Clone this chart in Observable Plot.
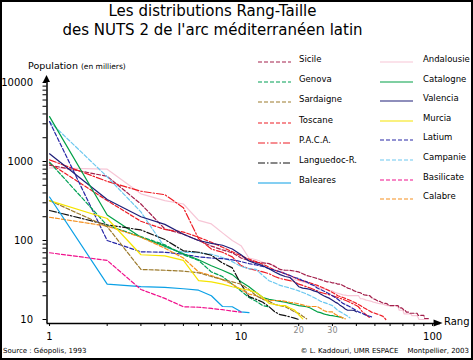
<!DOCTYPE html>
<html><head><meta charset="utf-8">
<script src="https://cdn.jsdelivr.net/npm/d3@7"></script>
<script src="https://cdn.jsdelivr.net/npm/@observablehq/plot@0.6"></script>
<style>
body{margin:0;background:#fff;}
#wrap{position:relative;width:473px;height:360px;overflow:hidden;font-family:"DejaVu Sans",sans-serif;background:#fff;color:#000;}
#wrap svg.plot{position:absolute;left:0;top:0;}
#border{position:absolute;left:0;top:0;width:473px;height:360px;box-sizing:border-box;border:2px solid #000;pointer-events:none;}
.t{position:absolute;white-space:nowrap;}
#title{left:0;width:425px;top:2px;text-align:center;font-size:15px;line-height:19px;}
.leg{position:absolute;font-size:8.5px;white-space:nowrap;line-height:10px;}
.leg svg{position:absolute;left:0;top:2px;}
.leg span{position:absolute;top:-3px;}
</style></head><body>
<div id="wrap"></div>
<script>
// ---- data ----
const seriesNames = ["Sicile","Genova","Sardaigne","Toscane","P.A.C.A.","Languedoc-R.","Baleares",
  "Andalousie","Catalogne","Valencia","Murcia","Latium","Campanie","Basilicate","Calabre"];
const sicile = [900,650,290,140,120,100,85,76,70,60, 56,53,52,51,47,43,42,42,41,40, 38,36,35,34,33,32,31,30,30,29,
  29,28,28,27,26,25,24.5,24,23,22.5, 22,21.8,21,20.5,20.3,20.1,20,19,18.3,18, 17.5,17,17,16.5,16.2,16,16,15.8,15,15,
  15,15,15,15,15,15,14,14,14,13.6, 13,13,12.4,12.4,12.4,12,12,12,12,12, 12,12,12,11.3,11.3,11.3,11.3,11.3,11.3,11.3,
  10.3,10.3,10.3,10.3,10.3];
const genova = [980,155,112,88,66,56,40,35,28,23,19,17,15,14.5];
const sardaigne = [320,150,43,42,41,39,35,32,30,28,24,20,18,17,15.5,15,14.5,13.5,12.5,12,11,10.2];
const toscane = [950,320,175,138,128,110,95,82,72,64, 58,54,50,46,42,40,38,36,34,32, 31,30,29,28,27,26,25,24,23,22,
  21,20,19.5,19,18.5,18,17.5,17,16.5,16, 15.5,15,14.5,14,13.6,13.2,12.8,12.4,12.2,12, 11.8,11.6,11.4,11.2,11,10.5,10];
const paca = [1050,560,420,380,260,105,78,71,62,48, 44,42,40,38,35,33,32,31,30,28, 27,26,25,24,23,22,21.5,21,20.5,20,
  19.5,19,18.5,18,17.5,17,16.5,16,15.5,15, 14.5,13.5,12.5,12,11.5,11,10.5];
const languedoc = [240,158,136,103,74,71,65,52,45,28,19.5,18,16.5,14.5,12.5,11.5,11.2,10.8,10.4,10];
const baleares = [355,28,26,25.5,24.5,23.5,20,14.6,14.5,12.5,12.2];
const andalousie = [830,800,390,320,290,180,162,125,100,86, 60,57,53,51,48,42,38,34,32,31, 30,29,28,27,26,25,24.5,24,23.3,23,
  22,21.5,21,20.5,20.3,20.1,20.1,20.1,20.1,20.1, 20.1,18.3,18.3,18,17.6,17.4,17.2,17,16.6,16.5, 16.2,16,15.9,15.8,15.6,15.4,15.2,15,15,15,
  15,15,15,15,15,14.4,13.1,13.1,13.1,13.1, 11.8,11.8,11.8,11.8,11.8,11.8,11.8,11.2,11.2,11.2, 11.2,11.2,11.2,10.6,10,10,10,10,10,10,
  10,10,10,10,10];
const catalogne = [3700,210,110,85,68,57,48,42,37,30, 26,22,19,18,17.5,17,16.6,16,15.5,15, 14.8,14.5,14,13.2,12.5,12.2,11.8,11.5,11.3,11.2,
  11,10.9,10.7,10.5];
const valencia = [1250,330,200,160,120,100,92,87,78,66, 55,51,48,44,40,37,35,34,30,26, 25,24.6,24,23,22.4,21,20,19.2,18.5,17.5,
  16.6,16,15,14.4,13.6,13.1,13.1,13.1,13,12.5];
const murcia = [320,190,66,64,56,31,30,28,26,24.5,23.5,22,19,16,15.5,15,15,14,13.2,11.5,10.2];
const latium = [3200,100,72,71,67,62,60,59,57,54, 51,49,47,44,42,40,38,36,34,33, 31,30,28,27,25,24,23,22,21,20,
  19,18,17,16,15.5,15,14.5,14,13.5,13, 12.5,12.2,12,11.6,11.3,11.1,11,10.8];
const campanie = [3200,640,230,82,71,70,67,61,54,47, 44,43,36,31,29,27,26,25,24,23, 22,21,20,19,18,17,16.5,16,15.5,15,
  14,13,12.5,12,11.5,11,10.5];
const basilicate = [70,56,24,18.5,14.5,14.3,13.8,13.3,12.8,12.4];
const calabre = [197,152,110,80,60,40,36,32,28,24, 21,20,18.2,17.4,17.4,17.4,17,16.5,16.2,15.8, 15.3,14.8,14.6,14.6,14.6,13.8,13,12.6,12.5,12.5,
  11.6,11.2,10.8,10.5,10.2];
const seriesValues = [sicile,genova,sardaigne,toscane,paca,languedoc,baleares,
  andalousie,catalogne,valencia,murcia,latium,campanie,basilicate,calabre];
const rankTicks = [1,2,3,4,5,6,7,8,9,10,20,30,40,50,60,70,80,90,100];
const rankLabels = [1,10,100];
const rankLabelsGray = [20,30];
const popTicks = [10,20,30,40,50,60,70,80,90,100,200,300,400,500,600,700,800,900,1000,2000,3000,4000,5000,6000,7000,8000,9000,10000];
const popLabels = [10,100,1000,10000];

// ---- styles ----
const seriesColors = ["#a3204c","#00a055","#9c7a2c","#ee1c25","#ee1c25","#111111","#0aa0e6",
  "#f7c6d6","#00a046","#1e1e78","#f5e400","#2626a6","#6cc8f0","#f0108c","#f5901e"];
const seriesDash = ["4,2","4,2","4,2","4,2","7,2,1.5,2","7,2,1.5,2",null,
  null,null,null,null,"4,2","4,2","4,2","4,2"];
const drawOrder = [7,0,3,4,12,11,9,8,1,5,14,2,10,6,13];

const xDomain = [0.97,110], yDomain = [8.9,10000];
const font = "'DejaVu Sans', sans-serif";

const marks = [];
for (const i of drawOrder) {
  const data = seriesValues[i].map((v,k)=>({rank:k+1, value:v}));
  marks.push(Plot.line(data, {x:"rank", y:"value", stroke:seriesColors[i], strokeWidth:1.2,
    strokeDasharray: seriesDash[i] || undefined}));
}
marks.push(Plot.ruleY([yDomain[0]], {stroke:"#000", strokeWidth:1.5}));
marks.push(Plot.ruleX([xDomain[0]], {stroke:"#000", strokeWidth:1.5}));
marks.push(Plot.axisX({ticks:rankTicks, tickSize:3, tickFormat:()=>"", label:null, stroke:"#000"}));
marks.push(Plot.axisX({ticks:rankLabels, tickSize:0, tickPadding:9, fontSize:10, tickFormat:d=>String(d), label:null, fill:"#000"}));
marks.push(Plot.axisX({ticks:rankLabelsGray, tickSize:0, tickPadding:4, fontSize:8, tickFormat:d=>String(d), label:null, fill:"#888"}));
marks.push(Plot.axisY({ticks:popTicks, tickSize:4, tickFormat:()=>"", label:null, stroke:"#000"}));
marks.push(Plot.axisY({ticks:popLabels, tickSize:0, tickPadding:14, fontSize:10, tickFormat:d=>String(d), label:null, fill:"#000"}));

const plot = Plot.plot({
  width:473, height:360,
  marginLeft:46.5, marginRight:33, marginTop:82, marginBottom:37,
  x:{type:"log", domain:xDomain, label:null},
  y:{type:"log", domain:yDomain, label:null},
  style:{fontFamily:font, background:"transparent", overflow:"visible"},
  marks
});
plot.classList.add("plot");
const wrap = document.getElementById("wrap");
wrap.appendChild(plot);

// axis arrows, placed through the scales
const sx = plot.scale("x"), sy = plot.scale("y");
const svg = d3.select(plot);
const ax = sx.apply(xDomain[0]), ay = sy.apply(yDomain[1]);
svg.append("path").attr("d",`M${ax-3.5},${ay} L${ax+3.5},${ay} L${ax},${ay-7} Z`).attr("fill","#000");
const bx = sx.apply(100)+1.5, by = sy.apply(yDomain[0]);
svg.append("path").attr("d",`M${bx},${by-3.5} L${bx},${by+3.5} L${bx+9},${by} Z`).attr("fill","#000");

// texts
function addText(html, css, cls="t") {
  const d = document.createElement("div"); d.className = cls; d.innerHTML = html;
  Object.assign(d.style, css); wrap.appendChild(d); return d;
}
addText("Les distributions Rang-Taille<br>des NUTS 2 de l'arc méditerranéen latin", {}, "t").id = "title";
addText("Population <span style='font-size:7.5px'>(en milliers)</span>", {left:"28px", top:"60px", fontSize:"9.5px"});
addText("Rang", {left:"444px", top:"316px", fontSize:"10px"});
addText("Source : Géopolis, 1993", {left:"3px", top:"347px", fontSize:"7px"});
addText("© L. Kaddouri, UMR ESPACE&nbsp;&nbsp;&nbsp;&nbsp;Montpellier, 2003", {right:"4px", top:"347px", fontSize:"7px"});

// legend
seriesNames.forEach((name,i)=>{
  const col = i<7 ? 0 : 1, row = col ? i-7 : i;
  const x = col ? 380 : 258;
  const y = col ? 62 + row*19.6 : 62 + row*20.2;
  const d = document.createElement("div"); d.className = "leg";
  d.style.left = x+"px"; d.style.top = (y-5)+"px";
  const dash = seriesDash[i] ? `stroke-dasharray="${seriesDash[i]}"` : "";
  d.innerHTML = `<svg width="34" height="6"><line x1="0" y1="3" x2="33" y2="3" stroke="${seriesColors[i]}" stroke-width="1.2" ${dash}/></svg><span style="left:${col?43:41}px">${name}</span>`;
  wrap.appendChild(d);
});
const b = document.createElement("div"); b.id = "border"; wrap.appendChild(b);
</script></body></html>
